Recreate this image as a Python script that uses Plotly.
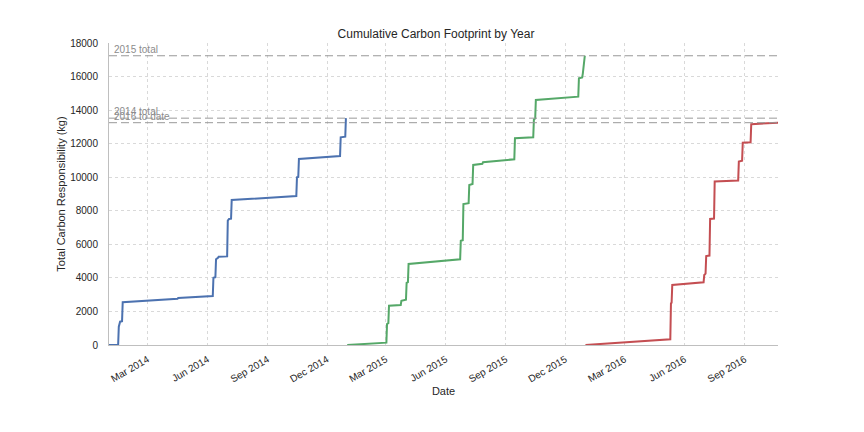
import plotly.graph_objects as go

# cumulative footprint per year (date, kg)
dates_2014 = ["2014-01-01", "2014-01-15", "2014-01-16", "2014-01-18", "2014-01-21", "2014-01-22",
              "2014-04-16", "2014-04-17", "2014-06-09", "2014-06-10", "2014-06-13", "2014-06-14",
              "2014-06-17", "2014-06-18", "2014-07-01", "2014-07-02", "2014-07-04", "2014-07-07",
              "2014-07-08", "2014-10-15", "2014-10-16", "2014-10-18", "2014-10-19", "2014-12-21",
              "2014-12-22", "2014-12-29", "2014-12-30"]
kg_2014 = [0, 0, 1090, 1390, 1420, 2545,
           2760, 2800, 2920, 4010, 4040, 5110,
           5200, 5260, 5280, 7410, 7510, 7530,
           8640, 8880, 10000, 10020, 11085, 11265,
           12380, 12420, 13520]

dates_2015 = ["2015-01-01", "2015-03-02", "2015-03-03", "2015-03-05", "2015-03-06", "2015-03-24",
              "2015-03-25", "2015-04-01", "2015-04-02", "2015-04-04", "2015-04-05", "2015-06-23",
              "2015-06-24", "2015-06-27", "2015-06-28", "2015-07-06", "2015-07-07", "2015-07-12",
              "2015-07-13", "2015-07-27", "2015-07-28", "2015-09-14", "2015-09-15", "2015-10-13",
              "2015-10-14", "2015-10-16", "2015-10-17", "2015-12-21", "2015-12-22", "2015-12-27",
              "2015-12-28", "2015-12-31"]
kg_2015 = [0, 140, 1250, 1300, 2345, 2385,
           2640, 2700, 3710, 3750, 4830, 5110,
           6215, 6250, 8400, 8450, 9540, 9600,
           10730, 10800, 10890, 11070, 12320, 12380,
           13450, 13500, 14600, 14800, 15900, 15950,
           16190, 17240]

dates_2016 = ["2016-01-01", "2016-05-10", "2016-05-11", "2016-05-12", "2016-05-13", "2016-06-30",
              "2016-07-01", "2016-07-03", "2016-07-04", "2016-07-09", "2016-07-10", "2016-07-16",
              "2016-07-17", "2016-08-22", "2016-08-23", "2016-08-28", "2016-08-29", "2016-09-10",
              "2016-09-11", "2016-10-22"]
kg_2016 = [0, 340, 2490, 2520, 3580, 3740,
           4170, 4250, 5300, 5330, 7510, 7540,
           9740, 9800, 10930, 10980, 12060, 12080,
           13160, 13250]

tick_dates = ["2014-03-01", "2014-06-01", "2014-09-01", "2014-12-01", "2015-03-01", "2015-06-01",
              "2015-09-01", "2015-12-01", "2016-03-01", "2016-06-01", "2016-09-01"]
tick_labels = ["Mar 2014", "Jun 2014", "Sep 2014", "Dec 2014", "Mar 2015", "Jun 2015",
               "Sep 2015", "Dec 2015", "Mar 2016", "Jun 2016", "Sep 2016"]

totals = [("2014 total", kg_2014[-1]), ("2015 total", kg_2015[-1]), ("2016 to date", kg_2016[-1])]

FONT = "Liberation Sans, Arial, sans-serif"
TEXT = "#262626"

fig = go.Figure()
for d, v, c in [(dates_2014, kg_2014, "#4C72B0"),
                (dates_2015, kg_2015, "#55A868"),
                (dates_2016, kg_2016, "#C44E52")]:
    fig.add_trace(go.Scatter(x=d, y=v, mode="lines", line=dict(color=c, width=2), showlegend=False))

for label, val in totals:
    fig.add_hline(y=val, line=dict(color="#999999", width=1, dash="8px,4px"))
    fig.add_annotation(x=0, xref="paper", y=val, yref="y", text=label, showarrow=False,
                       xanchor="left", yanchor="bottom", xshift=3, yshift=-1,
                       font=dict(size=10, color="#8c8c8c", family=FONT))

# page body has an 8px margin, so the figure is 8px smaller and margins shifted
fig.update_layout(
    width=856,
    height=424,
    plot_bgcolor="white",
    paper_bgcolor="white",
    margin=dict(l=101, r=86, t=35, b=87),
    font=dict(family=FONT, color=TEXT, size=10),
    title=dict(text="Cumulative Carbon Footprint by Year", x=0.5, xanchor="center",
               y=1 - 26 / 424, yanchor="middle", font=dict(size=12, color=TEXT)),
)

fig.update_xaxes(
    range=["2014-01-01", "2016-10-22"],
    tickvals=tick_dates,
    ticktext=tick_labels,
    tickangle=-30,
    showgrid=True,
    gridcolor="#d9d9d9",
    griddash="dot",
    showline=True,
    linecolor="#bfbfbf",
    linewidth=1,
    zeroline=False,
    ticks="",
    ticklabelstandoff=4,
    title=dict(text="Date", font=dict(size=11, color=TEXT), standoff=3),
)
fig.update_yaxes(
    range=[0, 18000],
    dtick=2000,
    tickformat="d",
    showgrid=True,
    gridcolor="#d9d9d9",
    griddash="dot",
    showline=True,
    linecolor="#bfbfbf",
    linewidth=1,
    zeroline=False,
    ticks="",
    ticklabelstandoff=8,
    title=dict(text="Total Carbon Responsibility (kg)", font=dict(size=11, color=TEXT), standoff=2),
)

fig.write_html("out.html")
